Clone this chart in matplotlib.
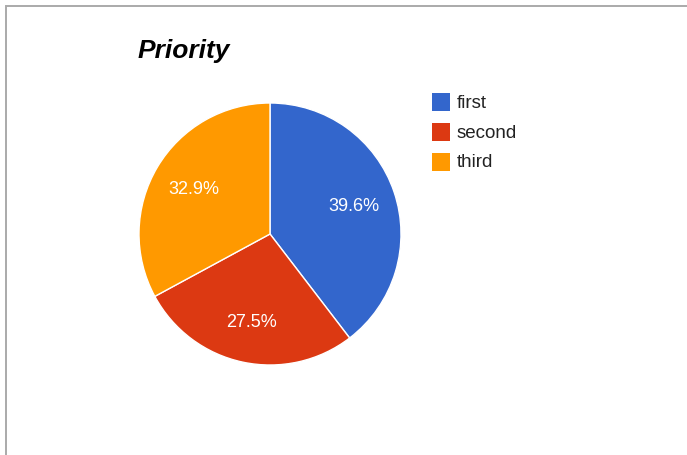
import matplotlib.pyplot as plt
from matplotlib.patches import Rectangle

labels = ['first', 'second', 'third']
values = [39.6, 27.5, 32.9]
colors = ['#3366CC', '#DC3912', '#FF9900']

plt.rcParams['font.family'] = ['Liberation Sans', 'DejaVu Sans']

fig = plt.figure(figsize=(6.87, 4.56), dpi=100)

# frame around the chart area (top and left edges visible)
fig.patches.append(Rectangle((5.5 / 687, -0.1), 1.2, 1 - 6.5 / 456 + 0.1,
                             transform=fig.transFigure, fill=False,
                             edgecolor='#aaaaaa', linewidth=1.4))

ax = fig.add_axes([139 / 687, 90 / 456, 262 / 687, 262 / 456])
wedges, _, autotexts = ax.pie(values, colors=colors, startangle=90, counterclock=False,
                              autopct='%.1f%%', pctdistance=0.68,
                              wedgeprops=dict(edgecolor='white', linewidth=1.0),
                              textprops=dict(color='white', fontsize=13))
ax.set_xlim(-1, 1)
ax.set_ylim(-1, 1)
ax.set_aspect('equal')

fig.text(138 / 687, 1 - 51 / 456, 'Priority', fontsize=19, fontweight='bold',
         fontstyle='italic', ha='left', va='center')

# legend drawn as squares and labels to the right of the pie
for i, (lab, col) in enumerate(zip(labels, colors)):
    yc = 1 - (103 + 30 * i) / 456
    fig.patches.append(Rectangle((432 / 687, yc - 9 / 456), 18 / 687, 18 / 456,
                                 transform=fig.transFigure, facecolor=col,
                                 edgecolor='none'))
    fig.text(457 / 687, yc, lab, fontsize=13.5, color='#222222', ha='left', va='center')

fig.savefig('out.png', dpi=100)
